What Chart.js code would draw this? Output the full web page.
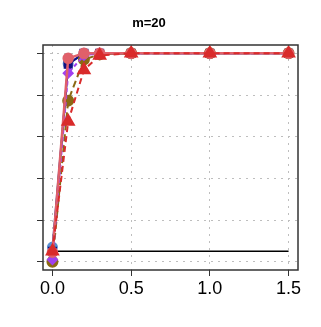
<!DOCTYPE html>
<html>
<head>
<meta charset="utf-8">
<script src="https://cdn.jsdelivr.net/npm/chart.js@4"></script>
<style>
  html, body { margin: 0; padding: 0; background: #fff; }
  #wrap { width: 321px; height: 327px; }
</style>
</head>
<body>
<div id="wrap"><canvas id="Chart"></canvas></div>
<script>
// x positions (effect size) and power of each method
const xValues = [0, 0.1, 0.2, 0.3, 0.5, 1.0, 1.5];
const navySeries = [0.05, 0.948, 1.0, 1.0, 1.0, 1.0, 1.0];
const blueSeries = [0.07, 0.95, 1.0, 1.0, 1.0, 1.0, 1.0];
const purpleSeries = [0.01, 0.905, 0.99, 1.0, 1.0, 1.0, 1.0];
const oliveSeries = [0.0, 0.773, 0.97, 0.995, 1.0, 1.0, 1.0];
const redSeries = [0.05, 0.673, 0.92, 0.99, 1.0, 1.0, 1.0];
const pinkSeries = [0.045, 0.976, 1.0, 1.0, 1.0, 1.0, 1.0];
const alphaLevel = 0.05;
const xTicks = [0, 0.5, 1.0, 1.5];
const yTicks = [0, 0.2, 0.4, 0.6, 0.8, 1.0];

function pts(ys) {
	return xValues.map((x, i) => ({x: x, y: ys[i]}));
}

// 枠線
const boxPlugin = {
	id: 'box',
	afterDraw(chart) {
		const a = chart.chartArea;
		const ctx = chart.ctx;
		ctx.save();
		ctx.strokeStyle = '#333';
		ctx.lineWidth = 1.5;
		ctx.strokeRect(a.left, a.top, a.right - a.left, a.bottom - a.top);
		ctx.restore();
	}
};

const gridOpts = {
	color: '#BEBEBE',
	lineWidth: 1,
	tickColor: '#333',
	tickBorderDash: [],
	tickLength: 6,
	tickWidth: 1,
};

let lineCtx = document.getElementById("Chart");
let lineConfig = {
	type: 'line',
	data: {
		datasets: [{
			label: 'red',
			data: pts(redSeries),
			borderColor: '#D92B2B',
			backgroundColor: '#D92B2B',
			borderDash: [6, 4],
			borderWidth: 2,
			pointStyle: 'triangle',
			pointRadius: 6.5,
			pointBorderColor: '#D92B2B',
		}, {
			label: 'pink',
			data: pts(pinkSeries),
			borderColor: '#E0606A',
			backgroundColor: '#E0606A',
			borderWidth: 2.5,
			pointStyle: 'circle',
			pointRadius: 4.5,
		}, {
			label: 'purple',
			data: pts(purpleSeries),
			borderColor: '#A040F0',
			backgroundColor: '#A040F0',
			borderDash: [4, 3],
			borderWidth: 2,
			pointStyle: 'rectRot',
			pointRadius: 4.5,
		}, {
			label: 'olive',
			data: pts(oliveSeries),
			borderColor: '#8B6914',
			backgroundColor: '#8B6914',
			borderDash: [7, 4],
			borderWidth: 2,
			pointStyle: 'circle',
			pointRadius: 5,
		}, {
			label: 'navy',
			data: pts(navySeries),
			borderColor: '#101080',
			backgroundColor: '#101080',
			borderWidth: 2,
			pointStyle: 'rect',
			pointRadius: 5,
		}, {
			label: 'blue',
			data: pts(blueSeries),
			borderColor: '#5B8FD0',
			backgroundColor: '#5B8FD0',
			borderWidth: 2,
			pointStyle: 'circle',
			pointRadius: 4.5,
		}, {
			label: 'alpha',
			data: [{x: xValues[0], y: alphaLevel}, {x: xValues[xValues.length - 1], y: alphaLevel}],
			borderColor: '#000',
			borderWidth: 1.5,
			pointRadius: 0,
		}],
	},
	options: {
		responsive: false,
		animation: false,
		layout: { padding: { left: 0, right: 23, top: 0, bottom: 0 } },
		plugins: {
			legend: { display: false },
			tooltip: { enabled: false },
			title: {
				display: true,
				text: 'm=20',
				color: '#000',
				font: { family: 'Liberation Sans', size: 13, weight: 'bold' },
				padding: { top: 16, bottom: 13.4 },
			},
		},
		scales: {
			x: {
				type: 'linear',
				min: -0.06,
				max: 1.56,
				afterBuildTicks: (s) => { s.ticks = xTicks.map(v => ({value: v})); },
				afterFit: (s) => { s.height = 57; },
				grid: gridOpts,
				border: { display: false, dash: [2, 5] },
				ticks: {
					color: '#000',
					font: { family: 'Liberation Sans', size: 18 },
					padding: 2,
					maxRotation: 0,
					callback: (v) => v.toFixed(1),
				},
			},
			y: {
				min: -0.04,
				max: 1.04,
				afterBuildTicks: (s) => { s.ticks = yTicks.map(v => ({value: v})); },
				afterFit: (s) => { s.width = 43; },
				grid: gridOpts,
				border: { display: false, dash: [2, 5] },
				ticks: { display: false },
			},
		},
	},
	plugins: [boxPlugin],
};
lineCtx.width = 321;
lineCtx.height = 327;
let lineChart = new Chart(lineCtx, lineConfig);
</script>
</body>
</html>
